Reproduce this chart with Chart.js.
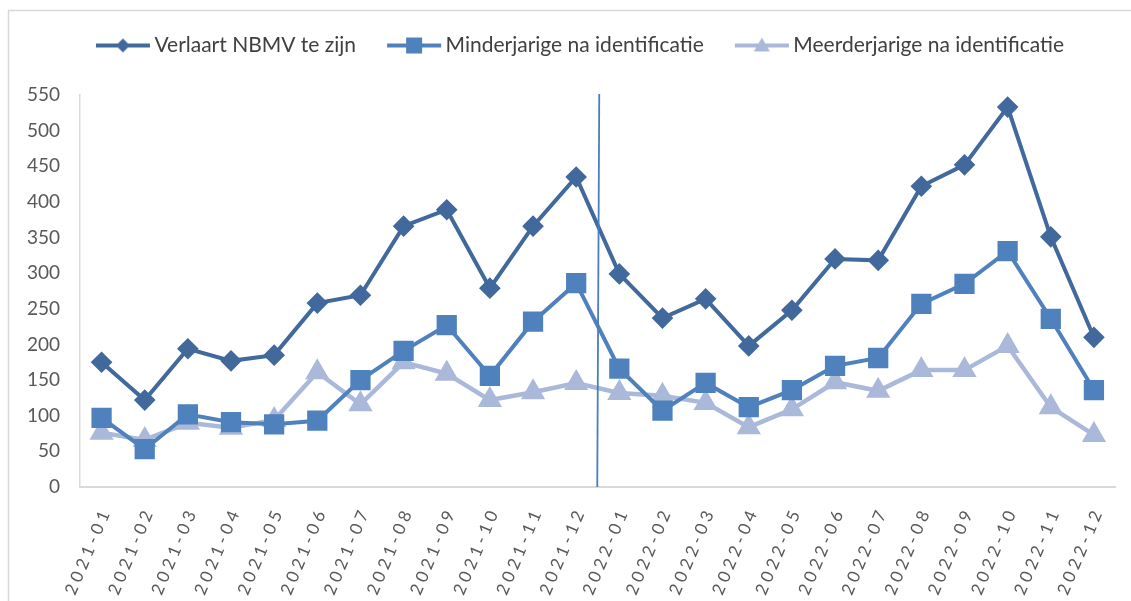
<!DOCTYPE html>
<html>
<head>
<meta charset="utf-8">
<script src="https://cdn.jsdelivr.net/npm/chart.js@4"></script>
<style>
  html, body { margin: 0; padding: 0; background: #fff; }
  #wrap { width: 1131px; height: 601px; position: relative; }
</style>
</head>
<body>
<div id="wrap"><canvas id="nbmvChart" width="1131" height="601"></canvas></div>
<script>
/* NBMV maandcijfers 2021-2022 */

const months = [
    '2021-01', '2021-02', '2021-03', '2021-04', '2021-05', '2021-06',
    '2021-07', '2021-08', '2021-09', '2021-10', '2021-11', '2021-12',
    '2022-01', '2022-02', '2022-03', '2022-04', '2022-05', '2022-06',
    '2022-07', '2022-08', '2022-09', '2022-10', '2022-11', '2022-12',
];
const verlaartNbmv = [175, 122, 194, 177, 185, 258, 269, 366, 389, 279, 366, 435,
                      299, 237, 264, 198, 248, 320, 318, 422, 452, 533, 351, 210];
const minderjarig  = [97, 53, 102, 91, 88, 93, 150, 191, 227, 156, 232, 286,
                      166, 107, 146, 112, 136, 170, 181, 257, 285, 331, 236, 136];
const meerderjarig = [76, 66, 90, 83, 94, 161, 116, 175, 159, 122, 133, 146,
                      132, 128, 118, 84, 109, 147, 135, 164, 164, 198, 112, 73];
const yTicks = { min: 0, max: 550, step: 50 };
const splitAfter = '2021-12';   // jaarscheiding

const C_DARK = '#41699c';
const C_MID = '#4f81bd';
const C_LIGHT = '#aab9d9';
const FONT = 'Lato, "Open Sans", sans-serif';

// legend sample: line with marker in the middle (Excel style)
function makeSample(color, shape) {
    const c = document.createElement('canvas');
    c.width = 68; c.height = 22;
    const g = c.getContext('2d');
    g.strokeStyle = color; g.fillStyle = color; g.lineWidth = 4;
    g.beginPath(); g.moveTo(13, 11); g.lineTo(67, 11); g.stroke();
    const cx = 40, cy = 11;
    g.beginPath();
    if (shape === 'diamond') {
        g.moveTo(cx, cy - 7); g.lineTo(cx + 7, cy); g.lineTo(cx, cy + 7); g.lineTo(cx - 7, cy);
    } else if (shape === 'square') {
        g.rect(cx - 8, cy - 8, 16, 16);
    } else {
        g.moveTo(cx, cy - 8); g.lineTo(cx + 8, cy + 6); g.lineTo(cx - 8, cy + 6);
    }
    g.closePath(); g.fill();
    return c;
}
const samples = [makeSample(C_DARK, 'diamond'), makeSample(C_MID, 'square'), makeSample(C_LIGHT, 'triangle')];

const framePlugin = {
    id: 'frame',
    beforeInit(chart) {
        const legend = chart.legend;
        const fit = legend.fit;
        legend.fit = function () {
            fit.call(this);
            this.height = 85;
        };
        const draw = legend.draw;
        legend.draw = function () {
            this.ctx.save();
            this.ctx.translate(18, 0);
            draw.call(this);
            this.ctx.restore();
        };
    },
    beforeDraw(chart) {
        const ctx = chart.ctx;
        ctx.save();
        ctx.strokeStyle = '#d9d9d9';
        ctx.lineWidth = 1.5;
        ctx.beginPath();
        ctx.moveTo(8.5, 601); ctx.lineTo(8.5, 10.5); ctx.lineTo(1131, 10.5);
        ctx.stroke();
        ctx.restore();
    },
    afterDatasetsDraw(chart) {
        const ctx = chart.ctx;
        const xs = chart.scales.x;
        const i = months.indexOf(splitAfter);
        const x = (xs.getPixelForValue(i) + xs.getPixelForValue(i + 1)) / 2;
        const area = chart.chartArea;
        ctx.save();
        ctx.strokeStyle = '#4a7ec0';
        ctx.lineWidth = 1.8;
        ctx.beginPath();
        ctx.moveTo(x + 1.5, area.top - 1);
        ctx.lineTo(x - 0.5, area.bottom);
        ctx.stroke();
        ctx.restore();
    },
    afterDraw(chart) {
        // rotated, spaced month labels under the axis
        const ctx = chart.ctx;
        const xs = chart.scales.x;
        ctx.save();
        ctx.font = '17px ' + FONT;
        ctx.fillStyle = '#595959';
        ctx.textAlign = 'right';
        ctx.textBaseline = 'middle';
        if ('letterSpacing' in ctx) ctx.letterSpacing = '4px';
        months.forEach((m, i) => {
            const x = xs.getPixelForValue(i);
            ctx.save();
            ctx.translate(x + 5, xs.top + 21);
            ctx.rotate(-67 * Math.PI / 180);
            ctx.fillText(m, 0, 0);
            ctx.restore();
        });
        ctx.restore();
    },
};

new Chart(document.getElementById('nbmvChart'), {
    type: 'line',
    data: {
        labels: months,
        datasets: [
            {
                label: 'Verlaart NBMV te zijn',
                data: verlaartNbmv,
                borderColor: C_DARK,
                backgroundColor: C_DARK,
                borderWidth: 4,
                pointStyle: 'rectRot',
                pointRadius: 8,
                pointHoverRadius: 8,
                tension: 0,
            },
            {
                label: 'Minderjarige na identificatie',
                data: minderjarig,
                borderColor: C_MID,
                backgroundColor: C_MID,
                borderWidth: 4,
                pointStyle: 'rect',
                pointRadius: 11.5,
                pointHoverRadius: 11.5,
                tension: 0,
            },
            {
                label: 'Meerderjarige na identificatie',
                data: meerderjarig,
                borderColor: C_LIGHT,
                backgroundColor: C_LIGHT,
                borderWidth: 4.5,
                pointStyle: 'triangle',
                pointRadius: 9.5,
                pointHoverRadius: 9.5,
                tension: 0,
            },
        ],
    },
    options: {
        responsive: false,
        animation: false,
        layout: { padding: { top: 10, left: 0, right: 13, bottom: 0 } },
        plugins: {
            tooltip: { enabled: false },
            legend: {
                position: 'top',
                align: 'center',
                labels: {
                    usePointStyle: true,
                    pointStyleWidth: 54,
                    padding: 25,
                    color: '#404040',
                    font: { family: FONT, size: 21 },
                    generateLabels(chart) {
                        return chart.data.datasets.map((ds, i) => ({
                            text: ds.label,
                            pointStyle: samples[i],
                            fontColor: '#404040',
                            datasetIndex: i,
                            hidden: false,
                            lineWidth: 0,
                        }));
                    },
                },
            },
        },
        scales: {
            x: {
                offset: true,
                grid: { display: false },
                border: { color: '#d9d9d9', width: 2 },
                ticks: { display: false },
                afterFit(scale) { scale.height = 114; },
            },
            y: {
                min: yTicks.min,
                max: yTicks.max,
                grid: { display: false, drawTicks: false },
                border: { color: '#d9d9d9', width: 1.5 },
                ticks: {
                    stepSize: yTicks.step,
                    padding: 20,
                    color: '#595959',
                    font: { family: FONT, size: 19 },
                },
                afterFit(scale) { scale.width = 80; },
            },
        },
    },
    plugins: [framePlugin],
});
</script>
</body>
</html>
